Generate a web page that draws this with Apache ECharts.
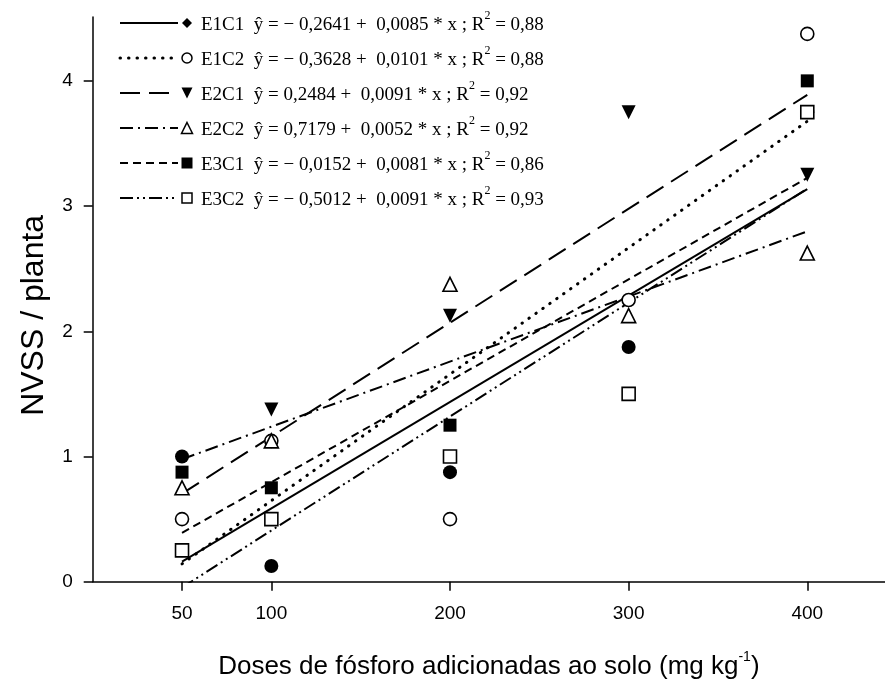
<!DOCTYPE html>
<html><head><meta charset="utf-8">
<script src="https://cdn.jsdelivr.net/npm/echarts@6/dist/echarts.min.js"></script>
<style>html,body{margin:0;padding:0;background:#fff}#c{width:885px;height:681px}</style>
</head><body><div id="c"></div>
<script>
// ---- data ----
const doses = [50, 100, 200, 300, 400];
const seriesNames = ['E1C1', 'E1C2', 'E2C1', 'E2C2', 'E3C1', 'E3C2'];
const e1c1 = [1.0, 0.125, 0.875, 1.875, 3.75];
const e1c2 = [0.5, 1.125, 0.5, 2.25, 4.375];
const e2c1 = [0.25, 1.375, 2.125, 3.75, 3.25];
const e2c2 = [0.75, 1.125, 2.375, 2.125, 2.625];
const e3c1 = [0.875, 0.75, 1.25, 1.5, 4.0];
const e3c2 = [0.25, 0.5, 1.0, 1.5, 3.75];
const intercepts = [-0.2641, -0.3628, 0.2484, 0.7179, -0.0152, -0.5012];
const slopes = [0.0085, 0.0101, 0.0091, 0.0052, 0.0081, 0.0091];
const rSquared = ['0,88', '0,88', '0,92', '0,92', '0,86', '0,93'];
const xTicks = [50, 100, 200, 300, 400];
const yTicks = [0, 1, 2, 3, 4];
const xTitle = 'Doses de fósforo adicionadas ao solo (mg kg';
const yTitle = 'NVSS / planta';

// ---- styles ----
const values = [e1c1, e1c2, e2c1, e2c2, e3c1, e3c2];
const markerStyles = [
  {symbol: 'circle', rotate: 0, filled: true, size: 14},
  {symbol: 'circle', rotate: 0, filled: false, size: 13},
  {symbol: 'triangle', rotate: 180, filled: true, size: 14},
  {symbol: 'triangle', rotate: 0, filled: false, size: 14},
  {symbol: 'rect', rotate: 0, filled: true, size: 13},
  {symbol: 'rect', rotate: 0, filled: false, size: 13}
];
const legendMarkers = [
  {symbol: 'diamond', rotate: 0, filled: true, size: 10},
  {symbol: 'circle', rotate: 0, filled: false, size: 10},
  {symbol: 'triangle', rotate: 180, filled: true, size: 11},
  {symbol: 'triangle', rotate: 0, filled: false, size: 11},
  {symbol: 'rect', rotate: 0, filled: true, size: 11},
  {symbol: 'rect', rotate: 0, filled: false, size: 10}
];
const lineDash = ['solid', [0.5, 8], [20, 9], [13, 5, 2, 5], [8, 5], [13, 4, 2, 4, 2, 4]];
const lineWidths = [2, 3, 2, 2, 2, 2];
const lineCaps = ['butt', 'round', 'butt', 'butt', 'butt', 'butt'];

function fmt(v) { return Math.abs(v).toFixed(4).replace('.', ','); }
function eqText(i) {
  const a = intercepts[i], b = slopes[i];
  const aTxt = (a < 0 ? '− ' : '') + fmt(a);
  return '{a|' + seriesNames[i] + '  ŷ = ' + aTxt + ' +  ' + fmt(b) + ' * x ; R}{s|2}{a| = ' + rSquared[i] + '}';
}

const series = [];
for (let i = 0; i < 6; i++) {
  const x0 = doses[0], x1 = doses[doses.length - 1];
  series.push({
    type: 'line', name: seriesNames[i] + ' fit', silent: true, symbol: 'none', clip: true, z: 2,
    data: [[x0, intercepts[i] + slopes[i] * x0], [x1, intercepts[i] + slopes[i] * x1]],
    lineStyle: {color: '#000', width: lineWidths[i], type: lineDash[i], cap: lineCaps[i]}
  });
}
for (let i = 0; i < 6; i++) {
  const m = markerStyles[i];
  series.push({
    type: 'scatter', name: seriesNames[i], z: 3,
    symbol: m.symbol, symbolRotate: m.rotate, symbolSize: m.size,
    data: doses.map((d, k) => [d, values[i][k]]),
    itemStyle: {opacity: 1, color: m.filled ? '#000' : '#fff', borderColor: '#000', borderWidth: m.filled ? 0 : 1.6}
  });
}

const legendSymbolPaths = {
  circle: (s) => ({type: 'circle', shape: {cx: 0, cy: 0, r: s / 2}}),
  rect: (s) => ({type: 'rect', shape: {x: -s / 2, y: -s / 2, width: s, height: s}}),
  diamond: (s) => ({type: 'polygon', shape: {points: [[0, -s / 2], [s / 2, 0], [0, s / 2], [-s / 2, 0]]}}),
  triangle: (s) => ({type: 'polygon', shape: {points: [[0, -s / 2], [s / 2, s / 2], [-s / 2, s / 2]]}})
};
const graphic = [];
for (let i = 0; i < 6; i++) {
  const y = 23 + i * 35;
  const m = legendMarkers[i];
  graphic.push({
    type: 'line', shape: {x1: 120, y1: y, x2: 178, y2: y},
    style: {stroke: '#000', lineWidth: lineWidths[i], lineDash: lineDash[i] === 'solid' ? null : lineDash[i], lineCap: lineCaps[i]}
  });
  const el = legendSymbolPaths[m.symbol](m.size);
  el.x = 187; el.y = y; el.rotation = m.rotate ? Math.PI : 0; el.z = 10;
  el.style = {fill: m.filled ? '#000' : '#fff', stroke: '#000', lineWidth: m.filled ? 0 : 1.5};
  graphic.push(el);
  graphic.push({
    type: 'text', left: 201, top: y - 13,
    style: {
      text: eqText(i),
      rich: {
        a: {fontFamily: 'Liberation Serif', fontSize: 19, color: '#000', lineHeight: 25, verticalAlign: 'bottom'},
        s: {fontFamily: 'Liberation Serif', fontSize: 12, color: '#000', lineHeight: 25, verticalAlign: 'top', padding: [0, 0, 10, 0]}
      }
    }
  });
}

const chart = echarts.init(document.getElementById('c'));
chart.setOption({
  backgroundColor: '#fff',
  animation: false,
  grid: {left: 92.7, right: 0, top: 17, bottom: 99.3, containLabel: false, outerBoundsMode: 'none'},
  xAxis: {
    type: 'value', min: 0, max: 443.5, interval: 50,
    splitLine: {show: false},
    axisLine: {lineStyle: {color: '#000', width: 1.5}},
    axisTick: {show: true, length: 9, inside: false, customValues: xTicks, lineStyle: {color: '#000', width: 1.5}},
    axisLabel: {customValues: xTicks, color: '#000', fontFamily: 'Liberation Sans', fontSize: 19, margin: 23},
    name: '{t|' + xTitle + '}{s|-1}{t|)}', nameLocation: 'middle', nameGap: 68,
    nameTextStyle: {rich: {
      t: {fontFamily: 'Liberation Sans', fontSize: 26, color: '#000', lineHeight: 30, verticalAlign: 'bottom'},
      s: {fontFamily: 'Liberation Sans', fontSize: 14, color: '#000', lineHeight: 30, verticalAlign: 'top', padding: [0, 0, 12, 0]}
    }}
  },
  yAxis: {
    type: 'value', min: 0, max: 4.51, interval: 1,
    splitLine: {show: false},
    axisLine: {lineStyle: {color: '#000', width: 1.5}},
    axisTick: {show: true, length: 9, inside: false, customValues: yTicks, lineStyle: {color: '#000', width: 1.5}},
    axisLabel: {customValues: yTicks, color: '#000', fontFamily: 'Liberation Sans', fontSize: 19, margin: 20},
    name: yTitle, nameLocation: 'middle', nameGap: 43,
    nameTextStyle: {color: '#000', fontFamily: 'Liberation Sans', fontSize: 32, padding: [0, 32, 0, 0]}
  },
  graphic: graphic,
  series: series
});
</script></body></html>
